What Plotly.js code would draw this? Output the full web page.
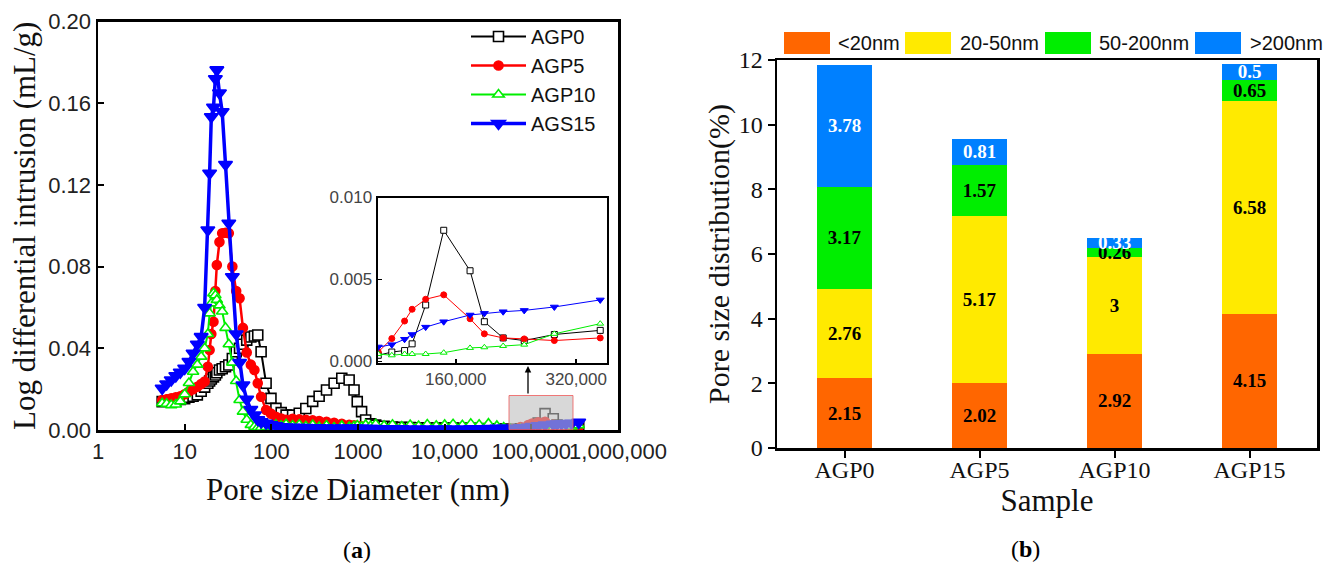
<!DOCTYPE html>
<html><head><meta charset="utf-8">
<script src="https://cdn.plot.ly/plotly-3.0.1.min.js"></script>
<style>html,body{margin:0;padding:0;background:#fff}#chart{width:1333px;height:566px}</style>
</head><body><div id="chart"></div>
<script>
// ---------- Panel (a): pore size distribution curves ----------
const poreSize = [5.5,6.2,7.0,7.9,8.9,10.0,11.2,12.5,14.0,15.5,17.0,18.5,19.4,20.3,21.5,22.6,23.5,25.2,27.1,29.6,
  32.3,35.5,39.3,43.0,47.0,52.0,58.0,63.8,69.7,76.2,87,99,113,130,148,176,210,250,300,356,
  433,530,650,790,900,980,1100,1225,1400,1600,2000,2500,3200,4000,5000,6300,8000,10000,12500,16000,
  20000,25000,32000,40000,48000,57000,75000,92000,102000,120000,144000,179000,198000,223000,251000,291000,352000];

const agp0 = [0.0139,0.0141,0.0145,0.0148,0.0150,0.0153,0.0160,0.0165,0.0172,0.0190,0.0210,0.0229,0.0240,0.0250,0.0260,0.0269,0.0280,0.0294,0.0300,0.0310,
  0.0318,0.0350,0.0383,0.0400,0.0420,0.0440,0.0455,0.0460,0.0465,0.0383,0.0229,0.0155,0.0106,0.0085,0.0073,0.0073,0.0082,0.0105,0.0140,0.0165,
  0.0196,0.0229,0.0253,0.0245,0.0196,0.0139,0.0090,0.0049,0.0030,0.0024,0.0018,0.0015,0.0013,0.0012,0.0011,0.0010,0.0010,0.0009,0.0009,0.0008,
  0.0008,0.0007,0.0006,0.0005,0.0004,0.00037,0.00057,0.00066,0.00107,0.00344,0.0080,0.00553,0.00242,0.00143,0.00127,0.00164,0.00189];

const agp5 = [0.0147,0.0150,0.0155,0.0160,0.0165,0.0175,0.0188,0.0200,0.0212,0.0225,0.0237,0.0310,0.0392,0.0470,0.0530,0.0680,0.0808,0.0920,0.0963,0.0966,
  0.0963,0.0800,0.0680,0.0645,0.0500,0.0380,0.0320,0.0294,0.0229,0.0163,0.0098,0.0080,0.0065,0.0056,0.0050,0.0055,0.0052,0.0050,0.0047,0.0044,
  0.0040,0.0035,0.0030,0.0026,0.0023,0.0020,0.0018,0.0015,0.0013,0.0011,0.0009,0.0007,0.0006,0.0005,0.0004,0.0003,0.0003,0.0002,0.0002,0.0002,
  0.0002,0.0002,0.0003,0.0003,0.0004,0.00057,0.00139,0.00246,0.00318,0.00379,0.00406,0.00260,0.00168,0.00143,0.00137,0.00127,0.00143];

const agp10 = [0.0131,0.0128,0.0122,0.0125,0.0140,0.0175,0.0230,0.0285,0.0320,0.0359,0.0400,0.0470,0.0571,0.0620,0.0669,0.0660,0.0637,0.0610,0.0580,0.0500,
  0.0420,0.0330,0.0240,0.0147,0.0090,0.0050,0.0025,0.0016,0.0012,0.0012,0.0015,0.0020,0.0025,0.0020,0.0028,0.0022,0.0026,0.0018,0.0024,0.0015,
  0.0022,0.0012,0.0020,0.0014,0.0018,0.0022,0.0016,0.0025,0.0019,0.0028,0.0021,0.0026,0.0017,0.0024,0.0019,0.0027,0.0021,0.0025,0.0028,0.0023,
  0.0030,0.0026,0.0031,0.0020,0.0012,0.00045,0.00037,0.00045,0.00045,0.00045,0.00053,0.00082,0.00086,0.00094,0.00102,0.00168,0.00230];

const ags15 = [0.0204,0.0225,0.0245,0.0265,0.0283,0.0302,0.0335,0.0376,0.0420,0.0457,0.0600,0.0979,0.1257,0.1534,0.1580,0.1720,0.1763,0.1650,0.1558,0.1300,
  0.1012,0.0750,0.0470,0.0330,0.0220,0.0150,0.0100,0.0073,0.0050,0.0040,0.0033,0.0025,0.0020,0.0016,0.0014,0.0013,0.0012,0.0012,0.0011,0.0011,
  0.0010,0.0010,0.0009,0.0009,0.0008,0.0008,0.0008,0.0007,0.0007,0.0007,0.0006,0.0006,0.0006,0.0005,0.0005,0.0005,0.0005,0.0005,0.0005,0.0005,
  0.0006,0.0006,0.0007,0.0008,0.0008,0.00088,0.00102,0.00135,0.00164,0.00209,0.00242,0.00283,0.00293,0.00303,0.00311,0.00332,0.00375];

const seriesNames = ['AGP0','AGP5','AGP10','AGS15'];
const xTickVals = [1,10,100,1000,10000,100000,1000000];
const xTickText = ['1','10','100','1000','10,000','100,000','1,000,000'];
const yTickVals = [0,0.04,0.08,0.12,0.16,0.20];
const insetXTickVals = [160000,320000];
const insetXTickText = ['160,000','320,000'];
const insetYTickVals = [0,0.005,0.010];

// ---------- Panel (b): stacked bars ----------
const samples = ['AGP0','AGP5','AGP10','AGP15'];
const below20 = [2.15,2.02,2.92,4.15];
const from20to50 = [2.76,5.17,3,6.58];
const from50to200 = [3.17,1.57,0.26,0.65];
const above200 = [3.78,0.81,0.33,0.5];
const classNames = ['<20nm','20-50nm','50-200nm','>200nm'];

// ---------- styling ----------
const W = 1333, H = 566;
const PX = x => x / W, PY = y => (H - y) / H;
const SANS = 'Liberation Sans, Arial, sans-serif';
const SERIF = 'Liberation Serif, Times New Roman, serif';

const styles = [
  {color:'#000000', symbol:'square', fill:'#ffffff', size:10, isize:6, lw:2},
  {color:'#ff0000', symbol:'circle', fill:'#ff0000', size:9, isize:6, lw:2.5},
  {color:'#00ee00', symbol:'triangle-up', fill:'#ffffff', size:10, isize:6, lw:2},
  {color:'#0000ff', symbol:'triangle-down', fill:'#0000ff', size:12, isize:7, lw:3.5}
];
const seriesY = [agp0, agp5, agp10, ags15];

const traces = [];
seriesY.forEach((ys, i) => {
  const s = styles[i];
  traces.push({
    type:'scatter', mode:'lines+markers', name:seriesNames[i], x:poreSize, y:ys,
    xaxis:'x', yaxis:'y',
    line:{color:s.color, width:s.lw},
    marker:{symbol:s.symbol, size:s.size, color:s.fill, line:{color:s.color, width:1.6}}
  });
});
seriesY.forEach((ys, i) => {
  const s = styles[i];
  traces.push({
    type:'scatter', mode:'lines+markers', name:seriesNames[i], x:poreSize, y:ys,
    xaxis:'x2', yaxis:'y2', showlegend:false,
    line:{color:s.color, width:1},
    marker:{symbol:s.symbol, size:s.isize, color:s.fill, line:{color:s.color, width:1}}
  });
});

const barColors = ['#ff6600','#ffea00','#00ee00','#0080ff'];
const barText = ['#000000','#000000','#000000','#ffffff'];
[below20, from20to50, from50to200, above200].forEach((vals, i) => {
  traces.push({
    type:'bar', x:samples, y:vals, name:classNames[i], xaxis:'x3', yaxis:'y3', showlegend:false,
    marker:{color:barColors[i], line:{width:0}},
    text:vals.map(v => String(v)), textposition:'inside', insidetextanchor:'middle',
    constraintext:'none', textangle:0,
    textfont:{family:SERIF, size:19, color:barText[i], weight:'bold'},
    hoverinfo:'x+y+name'
  });
});

const shapes = [
  // highlighted zoom region in panel (a)
  {type:'rect', xref:'paper', yref:'paper', x0:PX(509), x1:PX(573), y0:PY(429.5), y1:PY(395.5),
   fillcolor:'rgba(190,190,190,0.6)', line:{color:'rgba(240,90,90,0.8)', width:1}, layer:'above'}
];
const annotations = [
  {xref:'paper', yref:'paper', x:PX(528), y:PY(366), ax:0, ay:29, text:'', showarrow:true,
   arrowhead:2, arrowsize:1, arrowwidth:1.3, arrowcolor:'#000'},
  {xref:'paper', yref:'paper', x:PX(357), y:PY(550), xanchor:'center', yanchor:'middle', text:'(<b>a</b>)', showarrow:false,
   font:{family:SERIF, size:24, color:'#000'}},
  {xref:'paper', yref:'paper', x:PX(1025), y:PY(549), xanchor:'center', yanchor:'middle', text:'(<b>b</b>)', showarrow:false,
   font:{family:SERIF, size:24, color:'#000'}}
];
// manual legend for panel (b)
const legBoxX = [784, 905, 1045, 1195];
const legTextX = [836, 958, 1097, 1248];
classNames.forEach((nm, i) => {
  shapes.push({type:'rect', xref:'paper', yref:'paper', x0:PX(legBoxX[i]), x1:PX(legBoxX[i]+46),
    y0:PY(54), y1:PY(32), fillcolor:barColors[i], line:{width:0}});
  annotations.push({xref:'paper', yref:'paper', x:PX(legTextX[i]), y:PY(43), xanchor:'left', yanchor:'middle',
    text:nm.replace('<','&lt;').replace('>','&gt;'), showarrow:false, font:{family:SANS, size:20, color:'#111'}});
});

const axisBase = {showline:true, linecolor:'#000', mirror:true, showgrid:false, zeroline:false};

const layout = {
  width:W, height:H, margin:{l:0, r:0, t:0, b:0},
  paper_bgcolor:'#fff', plot_bgcolor:'#fff',
  barmode:'stack', bargap:0.593,
  showlegend:true,
  legend:{x:PX(466), y:PY(17), xanchor:'left', yanchor:'top', bgcolor:'rgba(0,0,0,0)', traceorder:'normal',
    font:{family:SANS, size:20, color:'#111'}, itemwidth:55, tracegroupgap:0},
  xaxis:Object.assign({}, axisBase, {
    type:'log', range:[0,6], domain:[PX(98), PX(618)], anchor:'y', linewidth:2.5,
    ticks:'inside', ticklen:6, tickwidth:2, tickcolor:'#000', tickangle:0,
    tickvals:xTickVals, ticktext:xTickText,
    tickfont:{family:SANS, size:22, color:'#222'},
    title:{text:'Pore size Diameter (nm)', font:{family:SERIF, size:31, color:'#111'}, standoff:16}
  }),
  yaxis:Object.assign({}, axisBase, {
    range:[0,0.2], domain:[PY(430), PY(21.5)], anchor:'x', linewidth:2.5,
    ticks:'inside', ticklen:6, tickwidth:2, tickcolor:'#000',
    tickvals:yTickVals, tickformat:'.2f',
    tickfont:{family:SANS, size:22, color:'#222'},
    title:{text:'Log differential intrusion (mL/g)', font:{family:SERIF, size:31, color:'#111'}, standoff:4}
  }),
  xaxis2:Object.assign({}, axisBase, {
    range:[56000,361000], domain:[PX(377.5), PX(607)], anchor:'y2', linewidth:2,
    ticks:'inside', ticklen:4, tickwidth:1.5, tickcolor:'#000', tickangle:0,
    tickvals:insetXTickVals, ticktext:insetXTickText,
    tickfont:{family:SANS, size:17, color:'#444'}
  }),
  yaxis2:Object.assign({}, axisBase, {
    range:[-0.0001,0.0100], domain:[PY(363), PY(197.5)], anchor:'x2', linewidth:2,
    ticks:'inside', ticklen:4, tickwidth:1.5, tickcolor:'#000',
    tickvals:insetYTickVals, tickformat:'.3f',
    tickfont:{family:SANS, size:17, color:'#444'}
  }),
  xaxis3:Object.assign({}, axisBase, {
    type:'category', domain:[PX(777), PX(1317)], anchor:'y3', linewidth:2.5,
    ticks:'outside', ticklen:7, tickwidth:2, tickcolor:'#000', tickangle:0, ticklabelstandoff:-8,
    tickfont:{family:SERIF, size:24, color:'#111'},
    title:{text:'Sample', font:{family:SERIF, size:31, color:'#111'}, standoff:6}
  }),
  yaxis3:Object.assign({}, axisBase, {
    range:[0,12], dtick:2, domain:[PY(448), PY(60)], anchor:'x3', linewidth:2.5,
    ticks:'outside', ticklen:7, tickwidth:2, tickcolor:'#000',
    tickfont:{family:SERIF, size:24, color:'#111'},
    title:{text:'Pore size distribution(%)', font:{family:SERIF, size:30, color:'#111'}, standoff:0}
  }),
  shapes:shapes,
  annotations:annotations
};

Plotly.newPlot('chart', traces, layout, {displayModeBar:false, staticPlot:true});
</script>
</body></html>
